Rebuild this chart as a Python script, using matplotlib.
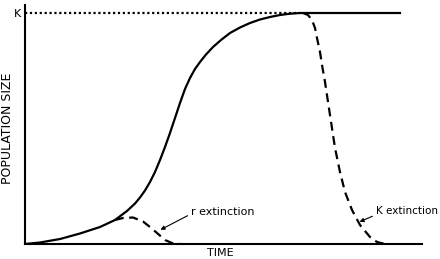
import matplotlib
matplotlib.use("Agg")
import matplotlib.pyplot as plt

plt.rcParams['font.family'] = ['DejaVu Sans']

# Logistic growth (solid); K = 1.0
growth_t = [0, 15, 35, 55, 75, 90, 102, 110, 115, 120, 125, 130, 135, 140, 145, 150,
            155, 160, 165, 170, 175, 181, 188, 196, 205, 215, 225, 235, 245, 255, 265,
            275, 375]
growth_n = [0.0, 0.0065, 0.0216, 0.0455, 0.0736, 0.1039, 0.1429, 0.1753, 0.2013, 0.2316,
            0.2684, 0.3117, 0.3636, 0.4199, 0.4805, 0.5455, 0.6104, 0.6710, 0.7186,
            0.7576, 0.7879, 0.8203, 0.8528, 0.8831, 0.9134, 0.9372, 0.9567, 0.9719,
            0.9827, 0.9913, 0.9970, 1.0, 1.0]

# r extinction (dashed)
r_ext_t = [90, 98, 108, 118, 125, 132, 140, 147, 155]
r_ext_n = [0.1039, 0.1126, 0.1147, 0.0974, 0.0736, 0.0476, 0.0173, 0.0043, 0.0]

# K extinction (dashed)
k_ext_t = [278, 283, 287, 290, 292, 295, 297, 300, 305, 310, 315, 320, 327, 335, 345, 352, 360]
k_ext_n = [1.0, 0.9913, 0.9697, 0.9351, 0.8918, 0.8312, 0.7749, 0.7013, 0.5584, 0.4156,
           0.3117, 0.2251, 0.1472, 0.0823, 0.0303, 0.0087, 0.0]

# Carrying capacity (dotted)
k_line_t = [0, 275]
k_line_n = [1.0, 1.0]

W, H = 440, 259
fig = plt.figure(figsize=(W / 100, H / 100), dpi=100)
ax = fig.add_axes([25 / W, (H - 244) / H, 397 / W, 239 / H])
ax.set_xlim(0, 397)
ax.set_ylim(0, 239 / 231)

ax.plot(k_line_t, k_line_n, color='black', lw=1.6, linestyle=(0, (1, 1.2)))
ax.plot(growth_t, growth_n, color='black', lw=1.6, solid_joinstyle='round')
ax.plot(r_ext_t, r_ext_n, color='black', lw=1.6, linestyle=(0, (4, 2.5)))
ax.plot(k_ext_t, k_ext_n, color='black', lw=1.6, linestyle=(0, (4, 2.5)))

for s in ['top', 'right']:
    ax.spines[s].set_visible(False)
for s in ['left', 'bottom']:
    ax.spines[s].set_linewidth(1.5)

ax.set_xticks([])
ax.set_yticks([1.0])
ax.set_yticklabels(['K'], fontsize=8)
ax.tick_params(axis='y', length=0, pad=3)

ax.text(166, 0.139, 'r extinction', fontsize=8, ha='left', va='center')
ax.annotate('', xy=(133, 0.056), xytext=(165, 0.128),
            arrowprops=dict(arrowstyle='-|>', mutation_scale=6, lw=0.8, color='black'))
ax.text(351, 0.142, 'K extinction', fontsize=7.5, ha='left', va='center')
ax.annotate('', xy=(332, 0.091), xytext=(350, 0.125),
            arrowprops=dict(arrowstyle='-|>', mutation_scale=6, lw=0.8, color='black'))

fig.text(220 / W, 1 - 253 / H, 'TIME', fontsize=8, ha='center', va='center')
fig.text(8 / W, 1 - 128 / H, 'POPULATION SIZE', fontsize=9, ha='center', va='center', rotation=90)

fig.savefig('out.png', dpi=100)
